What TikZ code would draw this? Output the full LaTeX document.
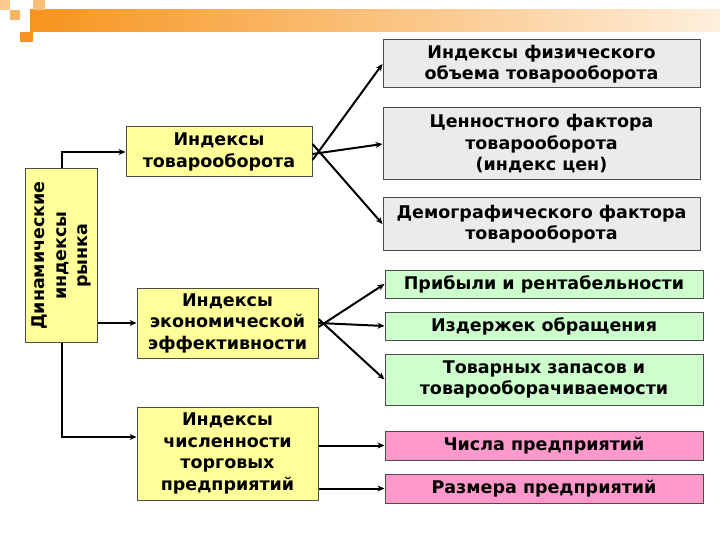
\documentclass[tikz,border=0pt]{standalone}
\usepackage{fontspec}
\setmainfont{DejaVu Sans}
\usetikzlibrary{arrows.meta}
\definecolor{yel}{HTML}{FFFF99}
\definecolor{grn}{HTML}{CCFFCC}
\definecolor{pnk}{HTML}{FF99CC}
\definecolor{gry}{HTML}{EBEBEB}
\definecolor{org}{HTML}{F7941D}
\begin{document}
\begin{tikzpicture}[x=1pt,y=-1pt,
  bx/.style={draw=black!70,line width=1pt,align=center,inner sep=0pt,font=\bfseries\fontsize{17.5}{21.5}\selectfont},
  conn/.style={line width=2pt,-{Stealth[length=7pt,width=6pt]}}]
\useasboundingbox (0,0) rectangle (720,540);
% top decoration
\shade[left color=org,right color=org!15] (30,10) rectangle (720,32);
\fill[org!70] (10,10) rectangle (20,20);
\fill[org] (20,32) rectangle (33,42);
\fill[org!50] (0,0) rectangle (10,10);
\fill[org!60] (33,0) rectangle (45,10);
% nodes
\path
 (25,168) node[bx,fill=yel,anchor=north west,minimum width=72,minimum height=174] (dyn) {}
 (219,152) node[bx,fill=yel,minimum width=186,minimum height=50] (tov) {Индексы\\товарооборота}
 (227.5,323) node[bx,fill=yel,minimum width=181,minimum height=70] (eko) {Индексы\\экономической\\эффективности}
 (227.5,453.5) node[bx,fill=yel,minimum width=181,minimum height=93] (chi) {Индексы\\численности\\торговых\\предприятий}
 (541.5,64) node[bx,fill=gry,minimum width=317,minimum height=48] (fiz) {Индексы физического\\объема товарооборота}
 (541.5,144) node[bx,fill=gry,minimum width=317,minimum height=72] (cen) {Ценностного фактора\\товарооборота\\(индекс цен)}
 (541.5,224) node[bx,fill=gry,minimum width=317,minimum height=52] (dem) {Демографического фактора\\товарооборота}
 (544,284) node[bx,fill=grn,minimum width=318,minimum height=28] (pri) {Прибыли и рентабельности}
 (544,326) node[bx,fill=grn,minimum width=318,minimum height=28] (izd) {Издержек обращения}
 (544,379.5) node[bx,fill=grn,minimum width=318,minimum height=51] (zap) {Товарных запасов и\\товарооборачиваемости}
 (544,445.5) node[bx,fill=pnk,minimum width=318,minimum height=29] (cis) {Числа предприятий}
 (544,488.5) node[bx,fill=pnk,minimum width=318,minimum height=29] (raz) {Размера предприятий};
\node[rotate=90,align=center,font=\bfseries\fontsize{17.5}{21.5}\selectfont] (dyt) at (dyn.center) {Динамические\\индексы\\рынка};
% connectors
\draw[conn] (dyn.north) |- (tov.west);
\draw[conn] (dyn.east |- eko.west) -- (eko.west);
\draw[conn] (dyn.south) |- (chi.west |- 0,437);
\draw[conn] ([yshift=-8pt]tov.east) -- (fiz.west);
\draw[conn] ([yshift=-2pt]tov.east) -- (cen.west);
\draw[conn] ([yshift=8pt]tov.east) -- (dem.west);
\draw[conn] ([yshift=-4pt]eko.east) -- (pri.west);
\draw[conn] (eko.east) -- (izd.west);
\draw[conn] ([yshift=4pt]eko.east) -- (zap.west);
\draw[conn] (chi.east |- cis.west) -- (cis.west);
\draw[conn] (chi.east |- raz.west) -- (raz.west);
\end{tikzpicture}
\end{document}
